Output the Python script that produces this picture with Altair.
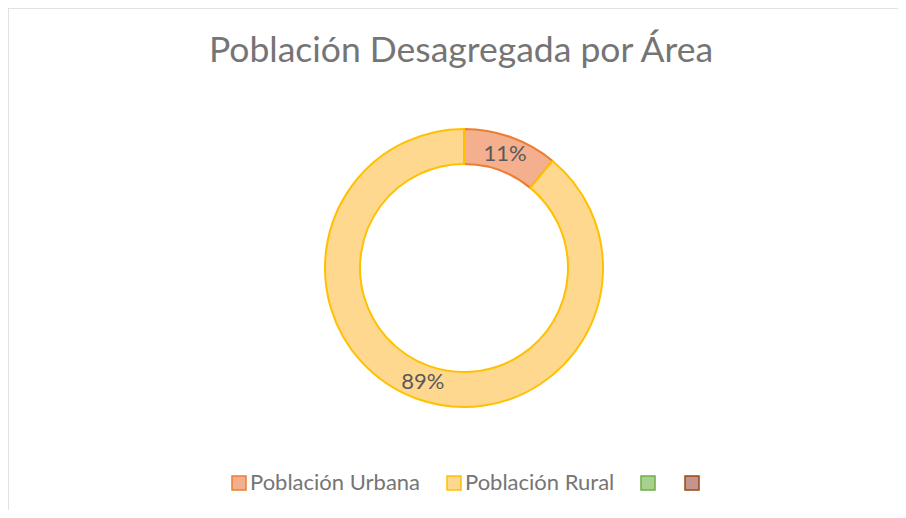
import altair as alt
import pandas as pd

categories = ["Población Urbana", "Población Rural", "Serie 3", "Serie 4"]
values = [11, 89, 0, 0]
labels = ["11%", "89%", "", ""]
order = [1, 2, 3, 4]
fills = ["#F4AF8E", "#FFD88F", "#A9D18E", "#C4958F"]
strokes = ["#ED7D31", "#FFC000", "#70AD47", "#9E480E"]
title_text = "Población Desagregada por Área"

df = pd.DataFrame({"cat": categories, "value": values, "label": labels, "ord": order})

W, H = 890, 502
CX, CY = 456, 260

fill_scale = alt.Scale(domain=categories, range=fills)
stroke_scale = alt.Scale(domain=categories, range=strokes)
legend = alt.Legend(
    title=None, orient="none", direction="horizontal", legendX=220, legendY=464,
    symbolType="square", symbolSize=196, symbolStrokeWidth=1.5,
    labelFont="Lato", labelFontSize=22, labelColor="#757575", labelOffset=0,
    columnPadding=22, labelLimit=400,
    labelExpr="indexof(datum.label, 'Serie') == 0 ? '' : datum.label",
)

base = alt.Chart(df).transform_filter("datum.value > 0")

arcs = base.mark_arc(outerRadius=139, innerRadius=104, strokeWidth=2).encode(
    theta=alt.Theta("value:Q", stack=True),
    order=alt.Order("ord:Q"),
    fill=alt.Fill("cat:N", scale=fill_scale, legend=legend),
    stroke=alt.Stroke("cat:N", scale=stroke_scale, legend=legend),
    x=alt.value(CX), y=alt.value(CY),
)

texts = base.mark_text(radius=121.5, font="Lato", fontSize=22, color="#595959").encode(
    theta=alt.Theta("value:Q", stack=True),
    order=alt.Order("ord:Q"),
    text="label:N",
    x=alt.value(CX), y=alt.value(CY),
)

tdf = pd.DataFrame({"t": [title_text]})
title = alt.Chart(tdf).mark_text(font="Lato", fontSize=35.5, color="#757575", baseline="alphabetic").encode(
    text="t:N", x=alt.value(453), y=alt.value(54)
)

one = pd.DataFrame({"a": [0]})
top_rule = alt.Chart(one).mark_rule(color="#d9d9d9", strokeWidth=1.5).encode(
    x=alt.value(0), x2=alt.value(W), y=alt.value(0)
)
left_rule = alt.Chart(one).mark_rule(color="#d9d9d9", strokeWidth=1.5).encode(
    x=alt.value(0), y=alt.value(0), y2=alt.value(H)
)

chart = alt.layer(top_rule, left_rule, arcs, texts, title).properties(
    width=W, height=H, autosize="none", padding=0
).configure_view(stroke=None)

chart.save("out.html", embed_options={"renderer": "svg", "actions": False})
